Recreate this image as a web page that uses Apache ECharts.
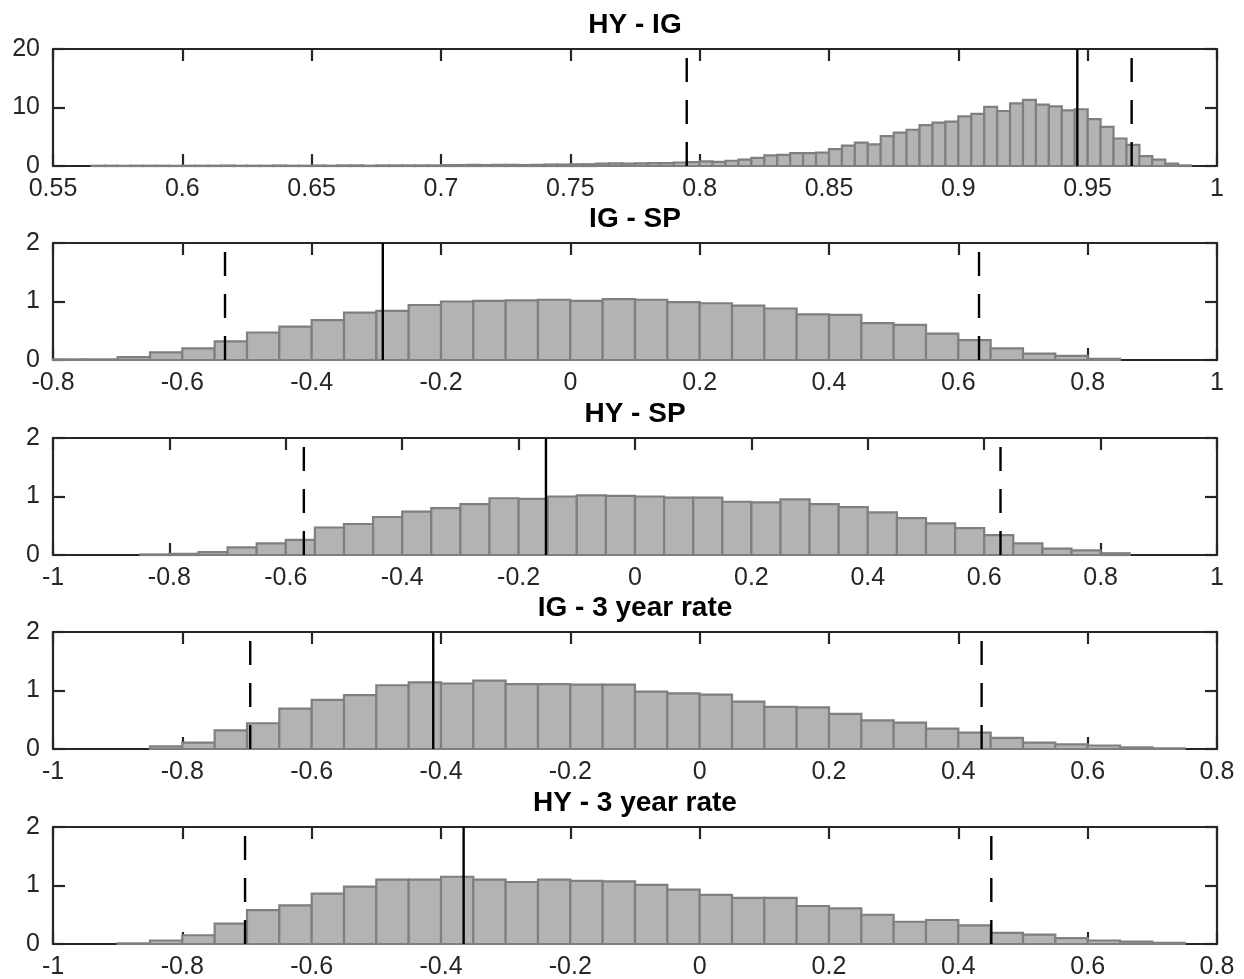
<!DOCTYPE html>
<html>
<head>
<meta charset="utf-8">
<title>Correlation histograms</title>
<script src="https://cdn.jsdelivr.net/npm/echarts@6/dist/echarts.min.js"></script>
<style>
  html, body { margin: 0; padding: 0; background: #ffffff; }
  #chart { width: 1244px; height: 979px; }
</style>
</head>
<body>
<div id="chart"></div>
<script>
// Panel titles
const panelTitles = ['HY - IG', 'IG - SP', 'HY - SP', 'IG - 3 year rate', 'HY - 3 year rate'];

// X axis ranges and tick steps for each panel
const xMins = [0.55, -0.8, -1, -1, -1];
const xMaxs = [1, 1, 1, 0.8, 0.8];
const xSteps = [0.05, 0.2, 0.2, 0.2, 0.2];

// Y axis ranges and tick steps
const yMaxs = [20, 2, 2, 2, 2];
const ySteps = [10, 1, 1, 1, 1];

// Histogram bins: left edge of the first bin and bin width
const binStarts = [0.565, -0.8, -0.85, -0.85, -0.9];
const binWidths = [0.005, 0.05, 0.05, 0.05, 0.05];

// Bin heights
const hyIgCounts = [
  0.05, 0.05, 0.03, 0.05, 0.05, 0.05, 0.03, 0.05, 0.05, 0.05,
  0.08, 0.05, 0.05, 0.05, 0.08, 0.05, 0.05, 0.08, 0.05, 0.1,
  0.1, 0.05, 0.1, 0.1, 0.1, 0.1, 0.1,
  0.15, 0.15, 0.2, 0.15, 0.2, 0.2, 0.15, 0.2, 0.25, 0.25,
  0.3, 0.3, 0.4, 0.45, 0.4, 0.45, 0.5, 0.5, 0.6, 0.65,
  0.8, 0.7, 0.9, 1.1, 1.4, 1.8, 1.9, 2.2, 2.2, 2.3,
  2.9, 3.5, 4.0, 3.7, 5.1, 5.7, 6.2, 7.0, 7.4, 7.6,
  8.5, 8.9, 10.1, 9.4, 10.7, 11.3, 10.5, 10.2, 9.5, 9.7,
  8.0, 6.7, 4.7, 3.6, 1.7, 1.1, 0.4, 0.1
];
const igSpCounts = [
  0.01, 0.01, 0.05, 0.13, 0.2, 0.32, 0.47, 0.57, 0.68, 0.81,
  0.84, 0.94, 1.0, 1.01, 1.02, 1.03, 1.01, 1.04, 1.03, 0.99,
  0.97, 0.93, 0.88, 0.78, 0.77, 0.63, 0.6, 0.45, 0.34, 0.2,
  0.11, 0.07, 0.02
];
const hySpCounts = [
  0.01, 0.02, 0.05, 0.13, 0.2, 0.26, 0.47, 0.53, 0.65, 0.74,
  0.8, 0.87, 0.97, 0.96, 1.0, 1.02, 1.01, 1.0, 0.98, 0.98,
  0.91, 0.9, 0.95, 0.87, 0.82, 0.73, 0.63, 0.54, 0.46, 0.34,
  0.2, 0.11, 0.08, 0.03
];
const ig3yCounts = [
  0.045, 0.11, 0.32, 0.44, 0.69, 0.84, 0.92, 1.09, 1.14, 1.12,
  1.17, 1.11, 1.11, 1.1, 1.1, 0.98, 0.95, 0.93, 0.81, 0.72,
  0.71, 0.6, 0.49, 0.45, 0.35, 0.28, 0.19, 0.11, 0.08, 0.06,
  0.03, 0.01
];
const hy3yCounts = [
  0.01, 0.06, 0.15, 0.35, 0.58, 0.66, 0.86, 0.98, 1.1, 1.1,
  1.15, 1.1, 1.06, 1.1, 1.08, 1.07, 1.01, 0.93, 0.84, 0.79,
  0.79, 0.65, 0.61, 0.5, 0.38, 0.41, 0.32, 0.19, 0.16, 0.1,
  0.06, 0.04, 0.02
];
const panelCounts = [hyIgCounts, igSpCounts, hySpCounts, ig3yCounts, hy3yCounts];

// Reference lines: lower band, point estimate, upper band
const lowerBands = [0.795, -0.534, -0.569, -0.695, -0.703];
const estimates = [0.946, -0.29, -0.153, -0.412, -0.365];
const upperBands = [0.967, 0.632, 0.628, 0.436, 0.451];

// Layout
const gridLeft = 53;
const gridWidth = 1164;
const gridHeight = 117;
const gridTops = [49, 243, 438, 632, 827];

const FONT = '"Liberation Sans", Arial, Helvetica, sans-serif';
const AXIS_COLOR = '#262626';
const BAR_FILL = '#b3b3b3';
const BAR_EDGE = '#7f7f7f';

function fmt(v) {
  const r = +(+v).toFixed(3);
  return String(Object.is(r, -0) ? 0 : r);
}

const grids = [];
const xAxes = [];
const yAxes = [];
const series = [];
const graphics = [];

panelTitles.forEach(function (title, i) {
  grids.push({
    left: gridLeft, top: gridTops[i], width: gridWidth, height: gridHeight,
    containLabel: false, outerBoundsMode: 'none', show: false
  });

  const tickCommon = { show: true, inside: true, length: 12, lineStyle: { color: AXIS_COLOR, width: 2.2 } };
  const lineCommon = { show: true, onZero: false, lineStyle: { color: AXIS_COLOR, width: 2.2 } };

  // bottom x axis with labels
  xAxes.push({
    type: 'value', gridIndex: i, position: 'bottom',
    min: xMins[i], max: xMaxs[i], interval: xSteps[i],
    axisLine: lineCommon, axisTick: tickCommon,
    splitLine: { show: false },
    axisLabel: {
      show: true, margin: 11, fontSize: 25, fontFamily: FONT, color: AXIS_COLOR,
      showMinLabel: true, showMaxLabel: true, hideOverlap: false,
      formatter: fmt
    }
  });
  // top x axis (frame + mirrored ticks)
  xAxes.push({
    type: 'value', gridIndex: i, position: 'top',
    min: xMins[i], max: xMaxs[i], interval: xSteps[i],
    axisLine: lineCommon, axisTick: tickCommon,
    splitLine: { show: false }, axisLabel: { show: false }
  });
  // left y axis with labels
  yAxes.push({
    type: 'value', gridIndex: i, position: 'left',
    min: 0, max: yMaxs[i], interval: ySteps[i],
    axisLine: lineCommon, axisTick: tickCommon,
    splitLine: { show: false },
    axisLabel: {
      show: true, margin: 13, fontSize: 25, fontFamily: FONT, color: AXIS_COLOR,
      showMinLabel: true, showMaxLabel: true, formatter: fmt
    }
  });
  // right y axis (frame + mirrored ticks)
  yAxes.push({
    type: 'value', gridIndex: i, position: 'right',
    min: 0, max: yMaxs[i], interval: ySteps[i],
    axisLine: lineCommon, axisTick: tickCommon,
    splitLine: { show: false }, axisLabel: { show: false }
  });

  const xIdx = i * 2;
  const yIdx = i * 2;

  // histogram bins as [left edge, right edge, height]
  const bins = panelCounts[i].map(function (c, k) {
    const x0 = binStarts[i] + k * binWidths[i];
    return [x0, x0 + binWidths[i], c];
  });

  series.push({
    type: 'custom',
    xAxisIndex: xIdx, yAxisIndex: yIdx,
    z: 2,
    silent: true,
    data: bins,
    encode: { x: [0, 1], y: 2 },
    renderItem: function (params, api) {
      const topLeft = api.coord([api.value(0), api.value(2)]);
      const bottomRight = api.coord([api.value(1), 0]);
      return {
        type: 'rect',
        shape: {
          x: topLeft[0], y: topLeft[1],
          width: bottomRight[0] - topLeft[0],
          height: bottomRight[1] - topLeft[1]
        },
        style: { fill: BAR_FILL, stroke: BAR_EDGE, lineWidth: 2.2 }
      };
    }
  });

  // vertical reference lines
  [[lowerBands[i], true], [estimates[i], false], [upperBands[i], true]].forEach(function (d) {
    series.push({
      type: 'line',
      xAxisIndex: xIdx, yAxisIndex: yIdx,
      z: 3, silent: true, symbol: 'none', animation: false,
      data: [[d[0], 0], [d[0], yMaxs[i]]],
      lineStyle: { color: '#000000', width: 2.4, type: d[1] ? [24, 18] : 'solid' }
    });
  });

  graphics.push({
    type: 'text',
    x: gridLeft + gridWidth / 2,
    y: gridTops[i] - 38,
    style: {
      text: title,
      textAlign: 'center',
      textVerticalAlign: 'top',
      font: 'bold 28px ' + FONT,
      fill: '#000000'
    }
  });
});

const chart = echarts.init(document.getElementById('chart'), null, { renderer: 'canvas' });
chart.setOption({
  backgroundColor: '#ffffff',
  animation: false,
  grid: grids,
  xAxis: xAxes,
  yAxis: yAxes,
  series: series,
  graphic: graphics
});
</script>
</body>
</html>
